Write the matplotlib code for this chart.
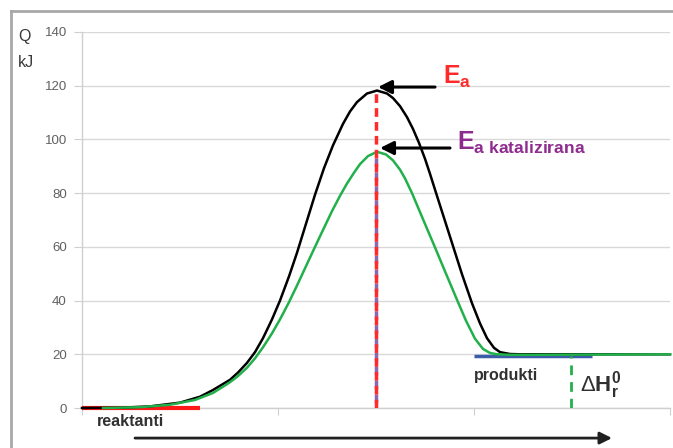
import numpy as np
import matplotlib
matplotlib.use("Agg")
import matplotlib.pyplot as plt
from matplotlib.lines import Line2D

plt.rcParams['font.family'] = ['Liberation Sans', 'DejaVu Sans']
plt.rcParams['mathtext.fontset'] = 'custom'
plt.rcParams['mathtext.rm'] = 'Liberation Sans'
plt.rcParams['mathtext.it'] = 'Liberation Sans:italic'
plt.rcParams['mathtext.bf'] = 'Liberation Sans:bold'

# reaction coordinate runs 0..588 (arbitrary units, the axis has no labels)
# path without catalyst (black)
x_black = [0, 38, 68, 98, 118, 131, 148, 156, 165, 173, 181, 190, 198, 207, 215,
           224, 233, 242, 251, 261, 268, 275, 285, 295, 305, 311, 318, 325, 331,
           337, 343, 348, 353, 362, 371, 380, 390, 398, 405, 412, 418, 428, 438, 588]
q_black = [0, 0.1, 0.6, 2, 4.2, 6.7, 10.5, 13.2, 16.8, 20.8, 26.0, 33, 40, 49, 57.8,
           68.6, 79.4, 89.3, 97.8, 105.8, 110.4, 113.9, 117.1, 118.2, 117.1, 115.4,
           112.4, 108.3, 103.9, 98.7, 92.8, 87.2, 81.3, 70.8, 60.3, 49.8, 39, 31.5,
           26, 22.4, 20.8, 20.1, 20, 20]

# path with catalyst (green)
x_green = [21, 58, 88, 113, 131, 148, 156, 165, 173, 181, 190, 198, 207, 215, 223,
           231, 240, 250, 258, 265, 272, 278, 286, 295, 304, 311, 318, 323, 330,
           341, 353, 364, 375, 384, 393, 401, 408, 415, 428, 448, 588]
q_green = [0, 0.3, 1.2, 3, 5.6, 9.6, 11.9, 15.0, 18.5, 22.6, 27.8, 33.0, 39.4, 45.6,
           52.0, 58.4, 65.5, 73.3, 79.0, 83.6, 87.6, 90.8, 93.8, 95.4, 94.4, 92.2,
           88.75, 85.5, 80.0, 70.3, 59.8, 50, 40.3, 32.5, 25.8, 22.0, 20.5, 20.0,
           19.8, 19.8, 20]

x_peak = 294
ea_uncat = 118
ea_cat = 95
q_react = 0
q_prod = 19.3
react_span = [0, 118]
prod_span = [392, 510]
x_dh = 489

yticks = [0, 20, 40, 60, 80, 100, 120, 140]
xticks = [0, 196, 392, 588]

fig = plt.figure(figsize=(6.73, 4.48), dpi=100)
ax = fig.add_axes([82 / 673, 40 / 448, 588 / 673, 376 / 448])
ax.set_xlim(0, 588)
ax.set_ylim(0, 140)

# frame around the chart
fig.add_artist(Line2D([11 / 673, 11 / 673], [0, 1 - 11 / 448], color='#a8a8a8', lw=2,
                      transform=fig.transFigure))
fig.add_artist(Line2D([11 / 673, 1], [1 - 11 / 448, 1 - 11 / 448], color='#a8a8a8', lw=2,
                      transform=fig.transFigure))

for s in ['top', 'right']:
    ax.spines[s].set_visible(False)
for s in ['left', 'bottom']:
    ax.spines[s].set_color('#cfcfcf')
    ax.spines[s].set_linewidth(1)

ax.set_yticks(yticks)
ax.set_xticks(xticks)
ax.set_xticklabels([])
ax.tick_params(axis='y', length=6, color='#cfcfcf', labelcolor='#606060', labelsize=9.5, pad=5)
ax.tick_params(axis='x', length=5, color='#cfcfcf')
ax.grid(axis='y', color='#d9d9d9', lw=1)
ax.set_axisbelow(True)

# reactant / product levels
ax.plot(react_span, [q_react, q_react], color='#ff1a1a', lw=3, solid_capstyle='butt',
        clip_on=False, zorder=3)
ax.plot(prod_span, [q_prod, q_prod], color='#3b5ca8', lw=2.5, solid_capstyle='butt', zorder=3)

# energy profiles
ax.plot(x_black, q_black, color='black', lw=1.8, zorder=4, clip_on=False,
        solid_joinstyle='round')
ax.plot(x_green, q_green, color='#22b04a', lw=1.8, zorder=5, clip_on=False,
        solid_joinstyle='round')

# dashed verticals
ax.plot([x_peak, x_peak], [0, ea_cat], color='#8a68b0', lw=2.5,
        linestyle=(2.5, (2.5, 1.5)), zorder=6)
ax.plot([x_peak, x_peak], [0, ea_uncat], color='#ff2a2a', lw=2.5,
        linestyle=(0, (2.5, 1.5)), zorder=6)
ax.plot([x_dh, x_dh], [0, q_prod], color='#22b04a', lw=2,
        linestyle=(0, (3.5, 2.5)), zorder=6)

# arrows to the peaks
arrow_kw = dict(arrowstyle='-|>', color='black', lw=2.2, mutation_scale=20,
                shrinkA=0, shrinkB=0)
ax.annotate('', xy=(296, 119.5), xytext=(353, 119.5), arrowprops=arrow_kw)
ax.annotate('', xy=(298, 96.8), xytext=(368, 96.8), arrowprops=arrow_kw)

ax.text(361, 120.6, r'$\mathbf{E_a}$', color='#ff2a2a', fontsize=18,
        ha='left', va='baseline')
ax.text(375, 96.3, r'$\mathbf{E_{a\ katalizirana}}$', color='#8e2b8e', fontsize=18,
        ha='left', va='baseline')

# labels
ax.text(15, -5.2, 'reaktanti', color='#303030', fontsize=11.5, fontweight='bold',
        ha='left', va='center', clip_on=False)
ax.text(392, 12.0, 'produkti', color='#303030', fontsize=11.5, fontweight='bold',
        ha='left', va='center')
ax.text(498, 6.0, r'$\Delta \mathbf{H_r^0}$', color='#303030', fontsize=16,
        ha='left', va='baseline')

# reaction coordinate arrow
ax.annotate('', xy=(530, -11.2), xytext=(53, -11.2), annotation_clip=False,
            arrowprops=dict(arrowstyle='-|>', color='#202020', lw=2, mutation_scale=18,
                            shrinkA=0, shrinkB=0))

fig.text(18 / 673, 1 - 37 / 448, 'Q', color='#383838', fontsize=11.5, ha='left', va='center')
fig.text(18 / 673, 1 - 62 / 448, 'kJ', color='#383838', fontsize=11.5, ha='left', va='center')

fig.savefig('out.png', dpi=100)
